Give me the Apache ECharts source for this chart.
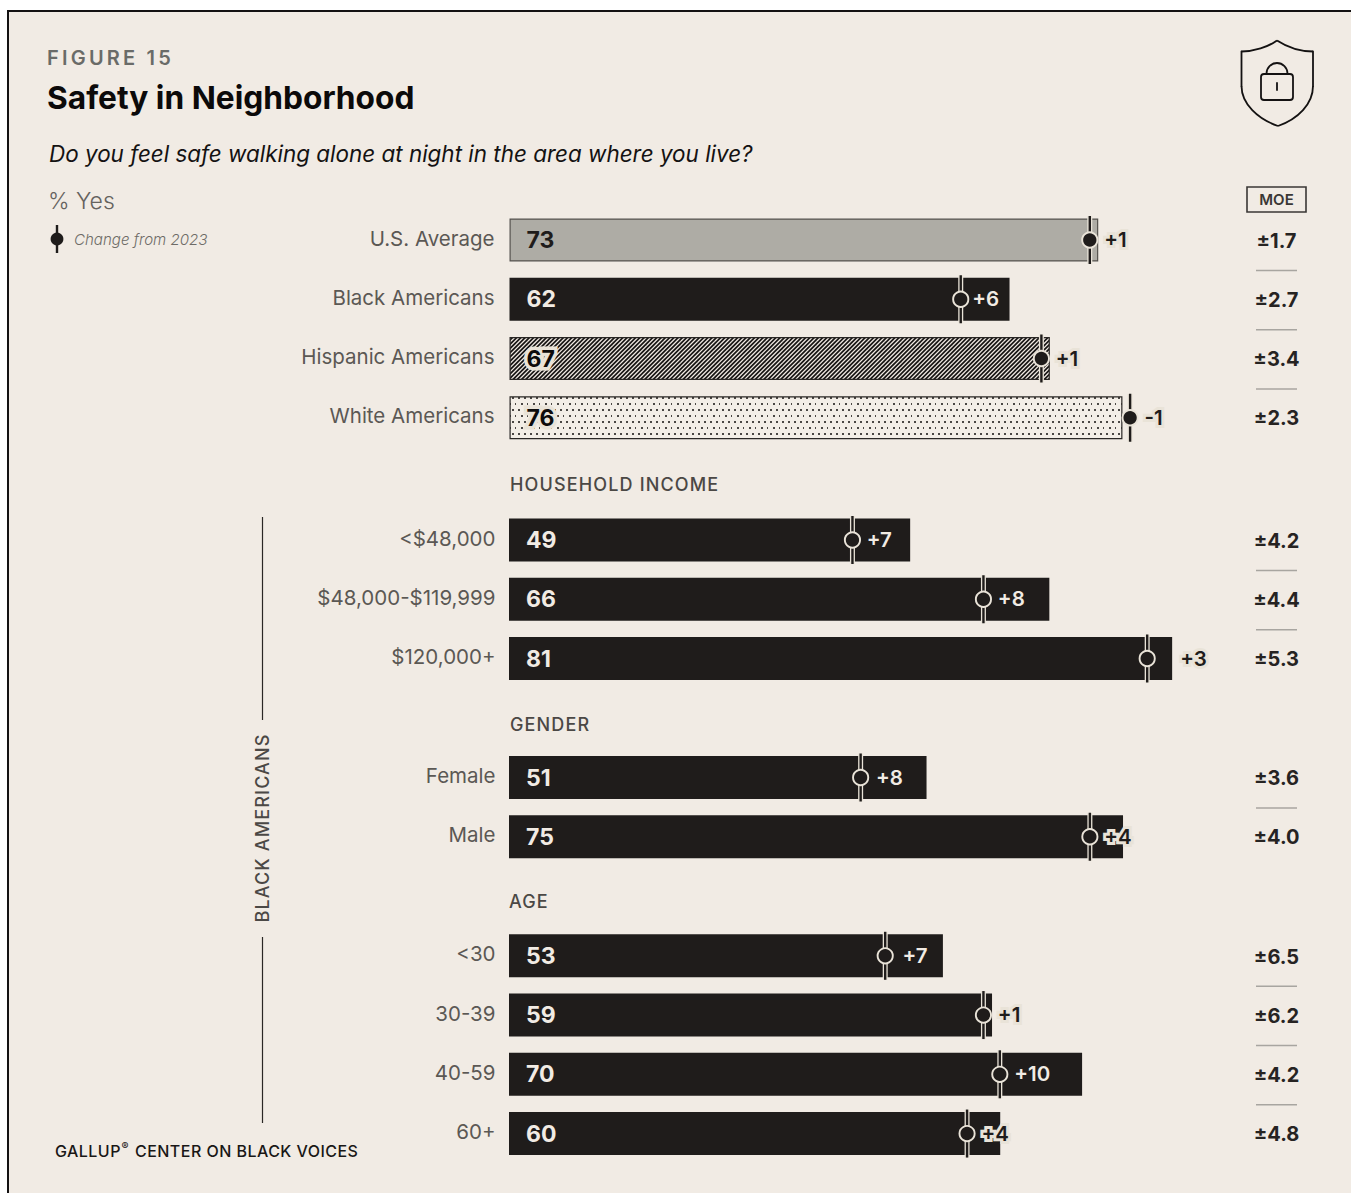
<!DOCTYPE html>
<html lang="en">
<head>
<meta charset="utf-8">
<title>Safety in Neighborhood</title>
<script src="https://cdn.jsdelivr.net/npm/echarts@6/dist/echarts.min.js"></script>
<style>
  html, body { margin: 0; padding: 0; background: #fff; }
  #chart { width: 1351px; height: 1193px; }
  /* Tracked caps: the SVG renderer writes the font family into each text's style */
  text[style*="TrackWide"] { letter-spacing: 3.2px; }
  text[style*="TrackMid"] { letter-spacing: 1.15px; }
  text[style*="TrackFine"] { letter-spacing: 0.46px; }
</style>
</head>
<body>
<div id="chart"></div>
<script>
// Percent saying yes, 2024 change, and margin of error, one set of lists per block
const overallLabels = ['U.S. Average', 'Black Americans', 'Hispanic Americans', 'White Americans'];
const overallValues = [73, 62, 67, 76];
const overallChange = [1, 6, 1, -1];
const overallMoe = ['±1.7', '±2.7', '±3.4', '±2.3'];

const incomeLabels = ['<$48,000', '$48,000-$119,999', '$120,000+'];
const incomeValues = [49, 66, 81];
const incomeChange = [7, 8, 3];
const incomeMoe = ['±4.2', '±4.4', '±5.3'];

const genderLabels = ['Female', 'Male'];
const genderValues = [51, 75];
const genderChange = [8, 4];
const genderMoe = ['±3.6', '±4.0'];

const ageLabels = ['<30', '30-39', '40-59', '60+'];
const ageValues = [53, 59, 70, 60];
const ageChange = [7, 1, 10, 4];
const ageMoe = ['±6.5', '±6.2', '±4.2', '±4.8'];

const FONT = 'Inter, sans-serif';
const PAPER = '#f1ebe4';
const INK = '#1f1c1b';
const GREY_TEXT = '#5b5854';
const HALO = '#e9e3d8';
const ROW = 59.25;
const BAR_H = 43;
const MOE_X = 1276.5;

// Fill tiles for the Hispanic and White bars
function hatchTile() {
  const s = 17, c = document.createElement('canvas');
  c.width = c.height = s;
  const g = c.getContext('2d');
  g.fillStyle = PAPER; g.fillRect(0, 0, s, s);
  g.strokeStyle = '#161413'; g.lineWidth = 1.7;
  // Diagonals rising to the right; the range reaches past both corners so the tile has no seams
  for (let k = -8; k <= 8; k++) {
    const o = k * s / 4;
    g.beginPath(); g.moveTo(o - s, s + s); g.lineTo(o + s + s, -s); g.stroke();
  }
  return c;
}
function dotTile() {
  const c = document.createElement('canvas');
  c.width = 12; c.height = 12;
  const g = c.getContext('2d');
  g.fillStyle = '#f3eee7'; g.fillRect(0, 0, 12, 12);
  g.fillStyle = '#4a4744';
  [[2, 1], [8, 1], [5, 7], [11, 7]].forEach(function (p) { g.fillRect(p[0], p[1], 2, 2); });
  return c;
}

const overallFills = [
  { color: '#aeaca5', borderColor: '#55524e', borderWidth: 1.2, text: INK, halo: null },
  { color: INK, borderWidth: 0, text: PAPER, halo: null },
  { color: { image: hatchTile(), repeat: 'repeat' }, borderColor: '#2a2725', borderWidth: 1.2, text: '#0d0b0b', halo: HALO },
  { color: { image: dotTile(), repeat: 'repeat' }, borderColor: '#2a2725', borderWidth: 1.2, text: '#0d0b0b', halo: HALO }
];

const blocks = [
  { labels: overallLabels, values: overallValues, change: overallChange, moe: overallMoe, center: 240, left: 509.5, pxPerPoint: 8.065, fills: overallFills, labelRight: 15 },
  { labels: incomeLabels, values: incomeValues, change: incomeChange, moe: incomeMoe, center: 540, left: 509, pxPerPoint: 8.187, labelRight: 13.5 },
  { labels: genderLabels, values: genderValues, change: genderChange, moe: genderMoe, center: 777.5, left: 509, pxPerPoint: 8.187, labelRight: 13.5 },
  { labels: ageLabels, values: ageValues, change: ageChange, moe: ageMoe, center: 955.8, left: 509, pxPerPoint: 8.187, labelRight: 13.5 }
];

// The one row whose change figure sits past the end of its bar
const changePastBar = new Set(['$120,000+']);
// Hand-set shifts for change figures that sit nearer or farther from the dot
const changeNudge = { 'Black Americans': -3, '<30': 3, 'Female': 1 };

const grids = [], xAxes = [], yAxes = [], series = [];

blocks.forEach(function (b, gi) {
  const n = b.labels.length;
  grids.push({ left: b.left, top: b.center - ROW / 2, width: b.pxPerPoint * 100, height: ROW * n });
  xAxes.push({ type: 'value', gridIndex: gi, min: 0, max: 100, show: false });
  yAxes.push({
    type: 'category', gridIndex: gi, inverse: true, data: b.labels,
    axisLine: { show: false }, axisTick: { show: false }, splitLine: { show: false },
    axisLabel: {
      margin: b.labelRight, color: GREY_TEXT, fontFamily: FONT, fontSize: 20.5, fontWeight: 400,
      verticalAlign: 'bottom', lineHeight: 4
    }
  });

  series.push({
    type: 'bar', xAxisIndex: gi, yAxisIndex: gi, barWidth: BAR_H, silent: true,
    data: b.values.map(function (v, i) {
      const f = b.fills ? b.fills[i] : { color: INK, borderWidth: 0, text: PAPER, halo: null };
      return {
        value: v,
        itemStyle: { color: f.color, borderColor: f.borderColor, borderWidth: f.borderWidth },
        label: {
          show: true, position: 'insideLeft', distance: 17,
          color: f.text, fontFamily: FONT, fontSize: 23, fontWeight: 700,
          textBorderColor: f.halo || 'transparent', textBorderWidth: f.halo ? 7 : 0
        }
      };
    })
  });

  // Year-earlier marker: tick, dot and signed change, plus the margin-of-error column
  series.push({
    type: 'custom', xAxisIndex: gi, yAxisIndex: gi, silent: true, z: 5, clip: false,
    encode: { x: 0, y: 1 },
    data: b.values.map(function (v, i) { return [v - b.change[i], i]; }),
    renderItem: function (params, api) {
      const i = params.dataIndex;
      const p = api.coord([api.value(0), i]);
      const barEnd = api.coord([b.values[i], i])[0];
      const ch = b.change[i];
      const txt = (ch > 0 ? '+' : '') + ch;
      const pastBar = changePastBar.has(b.labels[i]);
      let tx = p[0] + 14 + (changeNudge[b.labels[i]] || 0);
      if (pastBar) tx = barEnd + 8;
      const fitsInBar = !pastBar && tx + txt.length * 12.5 <= barEnd;
      const x = p[0] - 0.4;
      const children = [
        { type: 'line', shape: { x1: x, y1: p[1] - 24, x2: x, y2: p[1] + 24 }, style: { stroke: HALO, lineWidth: 5 } },
        { type: 'line', shape: { x1: x, y1: p[1] - 24, x2: x, y2: p[1] + 24 }, style: { stroke: INK, lineWidth: 2.4 } },
        { type: 'circle', shape: { cx: x, cy: p[1], r: 7.6 }, style: { fill: INK, stroke: HALO, lineWidth: 1.9 } },
        {
          type: 'text', z2: 3,
          style: {
            text: txt, x: tx, y: p[1] - 0.5,
            fill: fitsInBar ? PAPER : INK,
            stroke: fitsInBar ? null : HALO, lineWidth: fitsInBar ? 0 : 6,
            font: '600 20.5px ' + FONT, textAlign: 'left', textVerticalAlign: 'middle'
          }
        },
        {
          type: 'text',
          style: {
            text: b.moe[i], x: MOE_X, y: p[1] + 0.7,
            fill: '#262322', font: '700 20px ' + FONT, textAlign: 'center', textVerticalAlign: 'middle'
          }
        }
      ];
      if (i < b.values.length - 1) {
        children.push({
          type: 'line',
          shape: { x1: 1256, y1: p[1] + 30.5, x2: 1297, y2: p[1] + 30.5 },
          style: { stroke: '#a8a5a0', lineWidth: 1.6 }
        });
      }
      return { type: 'group', children: children };
    }
  });
});

function caption(text, x, y, font, fill) {
  return {
    type: 'text', silent: true,
    style: { text: text, x: x, y: y, font: font, fill: fill, textAlign: 'left', textVerticalAlign: 'middle' }
  };
}

function iconCurve(x1, y1, cpx1, cpy1, cpx2, cpy2, x2, y2) {
  return {
    type: 'bezierCurve', silent: true,
    shape: { x1: x1, y1: y1, cpx1: cpx1, cpy1: cpy1, cpx2: cpx2, cpy2: cpy2, x2: x2, y2: y2 },
    style: { fill: 'none', stroke: '#141212', lineWidth: 1.8 }
  };
}
function iconLine(x1, y1, x2, y2) {
  return { type: 'line', silent: true, shape: { x1: x1, y1: y1, x2: x2, y2: y2 }, style: { stroke: '#141212', lineWidth: 1.8, lineCap: 'round' } };
}

const decorations = [
  { type: 'rect', z: -10, silent: true, shape: { x: 8, y: 11, width: 1400, height: 1300 }, style: { fill: PAPER, stroke: '#141212', lineWidth: 2 } },

  caption('FIGURE 15', 47, 58, '600 20px TrackWide, ' + FONT, '#6a6b68'),
  caption('Safety in Neighborhood', 47, 97, '700 31.7px ' + FONT, '#0c0a0a'),
  caption('Do you feel safe walking alone at night in the area where you live?', 49, 153, 'italic 400 22.45px ' + FONT, '#141212'),
  caption('% Yes', 48, 201, '300 23px ' + FONT, '#65625e'),
  caption('Change from 2023', 74, 239.5, 'italic 300 15.1px ' + FONT, '#6e6b67'),

  { type: 'line', silent: true, shape: { x1: 57, y1: 225, x2: 57, y2: 253 }, style: { stroke: INK, lineWidth: 2.4 } },
  { type: 'circle', silent: true, shape: { cx: 57, cy: 239, r: 6.4 }, style: { fill: INK } },

  caption('HOUSEHOLD INCOME', 510, 484.5, '500 18px TrackMid, ' + FONT, '#4b4845'),
  caption('GENDER', 510, 724.5, '500 18px TrackMid, ' + FONT, '#4b4845'),
  caption('AGE', 509, 901.5, '500 18px TrackMid, ' + FONT, '#4b4845'),

  { type: 'line', silent: true, shape: { x1: 262.5, y1: 517, x2: 262.5, y2: 720 }, style: { stroke: '#2a2725', lineWidth: 1.2 } },
  { type: 'line', silent: true, shape: { x1: 262.5, y1: 937, x2: 262.5, y2: 1123 }, style: { stroke: '#2a2725', lineWidth: 1.2 } },
  {
    type: 'text', silent: true, x: 262, y: 828, rotation: Math.PI / 2,
    style: { text: 'BLACK AMERICANS', x: 0, y: 0, font: '500 18px TrackMid, ' + FONT, fill: '#4b4845', textAlign: 'center', textVerticalAlign: 'middle' }
  },

  // Footer wordmark with its raised registered sign
  caption('GALLUP', 55, 1151, '500 16px TrackFine, ' + FONT, '#191716'),
  caption('®', 121.5, 1146, '500 10.5px ' + FONT, '#191716'),
  caption('CENTER ON BLACK VOICES', 135, 1151, '500 16px TrackFine, ' + FONT, '#191716'),

  // Shield with padlock
  iconCurve(1277, 40.5, 1268, 47, 1254, 51.5, 1241.5, 51.5),
  iconLine(1241.5, 51.5, 1241.5, 86),
  iconCurve(1241.5, 86, 1241.5, 104, 1258, 119, 1278, 126),
  iconCurve(1278, 126, 1298, 119, 1313, 104, 1313, 86),
  iconLine(1313, 86, 1313, 51.5),
  iconCurve(1313, 51.5, 1300, 51.5, 1287, 47, 1277, 40.5),
  { type: 'rect', silent: true, shape: { x: 1261, y: 74, width: 32, height: 26, r: 3 }, style: { fill: 'none', stroke: '#141212', lineWidth: 1.8 } },
  { type: 'arc', silent: true, shape: { cx: 1277, cy: 73.5, r: 10.5, startAngle: Math.PI, endAngle: Math.PI * 2, clockwise: true }, style: { fill: 'none', stroke: '#141212', lineWidth: 1.8 } },
  iconLine(1277, 83, 1277, 90),

  { type: 'rect', silent: true, shape: { x: 1247, y: 187, width: 59, height: 25 }, style: { fill: 'none', stroke: '#3a3735', lineWidth: 1.6 } },
  {
    type: 'text', silent: true,
    style: { text: 'MOE', x: 1276.5, y: 199.5, font: '600 15px ' + FONT, fill: '#3a3735', textAlign: 'center', textVerticalAlign: 'middle' }
  }
];

const chart = echarts.init(document.getElementById('chart'), null, { renderer: 'svg' });
chart.setOption({
  animation: false,
  backgroundColor: '#ffffff',
  textStyle: { fontFamily: FONT },
  grid: grids,
  xAxis: xAxes,
  yAxis: yAxes,
  series: series,
  graphic: { elements: decorations }
});
</script>
</body>
</html>
